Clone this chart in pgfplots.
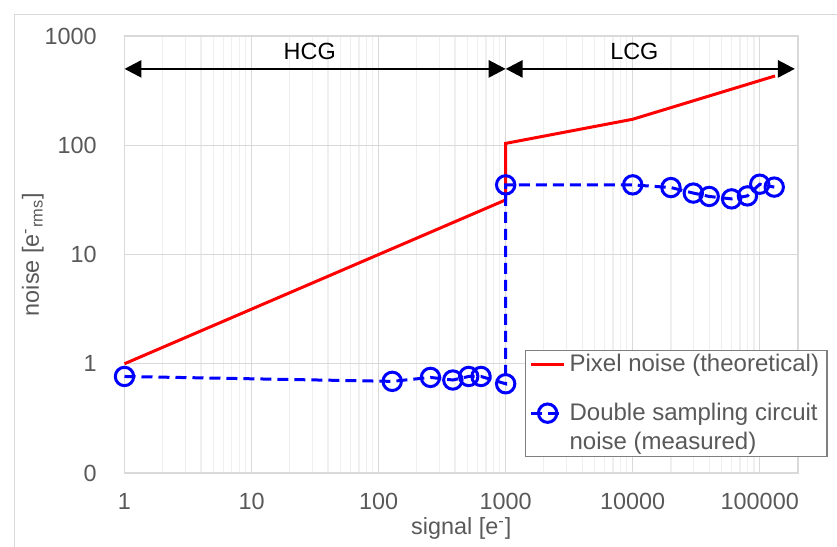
\documentclass[border=0pt]{standalone}
\usepackage{fontspec}
\setmainfont{Liberation Sans}
\usepackage{pgfplots}
\pgfplotsset{compat=1.18}
\usetikzlibrary{arrows.meta}
\definecolor{txtgray}{HTML}{595959}
\definecolor{gridgray}{HTML}{D9D9D9}
\definecolor{minorgray}{HTML}{EFEFEF}
\definecolor{legframe}{HTML}{7F7F7F}
\begin{document}
\begin{tikzpicture}
% 1 px of the reference = 0.5pt, origin at the lower left corner of the plot area
\useasboundingbox (-62.25pt,-37pt) rectangle (356.25pt,236.5pt);
\draw[gridgray, line width=0.6pt] (-55.1pt,-40pt) -- (-55.1pt,229.35pt) -- (360pt,229.35pt);
\begin{axis}[
  at={(0pt,0pt)}, anchor=south west,
  scale only axis, width=336.75pt, height=218.5pt,
  xmode=log, ymode=log,
  xmin=1, xmax=200000, ymin=0.1, ymax=1000,
  xtick={1,10,100,1000,10000,100000},
  xticklabels={1,10,100,1000,10000,100000},
  minor xtick={2,3,4,5,6,7,8,9,20,30,40,50,60,70,80,90,200,300,400,500,600,700,800,900,
    2000,3000,4000,5000,6000,7000,8000,9000,20000,30000,40000,50000,60000,70000,80000,90000},
  ytick={0.1,1,10,100,1000},
  yticklabels={0,1,10,100,1000},
  minor ytick={},
  xmajorgrids, ymajorgrids, xminorgrids,
  major grid style={gridgray, line width=0.6pt},
  minor grid style={minorgray, line width=0.6pt},
  axis line style={gridgray, line width=0.6pt},
  major tick length=0pt, minor tick length=0pt,
  tick label style={font=\fontsize{11.7}{14}\selectfont, text=txtgray, inner sep=0pt},
  yticklabel style={anchor=east, xshift=-13.75pt},
  xticklabel style={anchor=north, yshift=-10pt},
  label style={font=\fontsize{11.7}{14}\selectfont, text=txtgray},
  xlabel={signal [e\textsuperscript{-}]},
  ylabel={noise [e\textsuperscript{-}\textsubscript{rms}]},
  xlabel style={at={(axis description cs:0.5,-0.128)}, anchor=center},
  ylabel style={at={(axis description cs:-0.136,0.5)}, anchor=center},
  clip=false,
  legend style={at={(axis description cs:0.5947,0.2815)}, anchor=north west,
    draw=legframe, line width=0.6pt, fill=white,
    font=\fontsize{12}{14.5}\selectfont, text=txtgray,
    cells={align=left, anchor=west, inner ysep=2.5pt},
    inner xsep=2pt, inner ysep=0pt, row sep=10pt},
  legend image code/.code={\draw[mark repeat=2,mark phase=2,#1]
    plot coordinates {(0pt,0pt) (8.25pt,0pt) (16.5pt,0pt)};},
]
\addplot[red, line width=1.5pt] coordinates {
  (1,1) (1000,31.6) (1000,104) (10000,173) (132000,431)
};
\addlegendentry{Pixel noise (theoretical)}
\addplot[blue, line width=1.5pt, dash pattern=on 5.5pt off 3pt,
  mark=o, mark size=4.6pt, mark options={solid, line width=1.5pt},
  legend image post style={yshift=7.25pt}] coordinates {
  (1,0.765) (128,0.69) (256,0.75) (384,0.71) (512,0.765) (640,0.765) (1000,0.656)
  (1000,43.4) (10000,43.4) (20000,41) (30000,36.5) (40000,34) (60000,32.3)
  (80000,34.4) (100000,44) (130000,41.4)
};
\addlegendentry{Double sampling circuit\\noise (measured)}
\draw[line width=1.35pt, {Triangle[length=8.5pt,width=8.5pt]}-{Triangle[length=8.5pt,width=8.5pt]}]
  (axis cs:1,500) -- (axis cs:1000,500);
\draw[line width=1.35pt, {Triangle[length=8.5pt,width=8.5pt]}-{Triangle[length=8.5pt,width=8.5pt]}]
  (axis cs:1000,500) -- (axis cs:189000,500);
\node[font=\fontsize{11.7}{14}\selectfont] at (axis cs:28.7,716) {HCG};
\node[font=\fontsize{11.7}{14}\selectfont] at (axis cs:10300,716) {LCG};
\end{axis}
\end{tikzpicture}
\end{document}
